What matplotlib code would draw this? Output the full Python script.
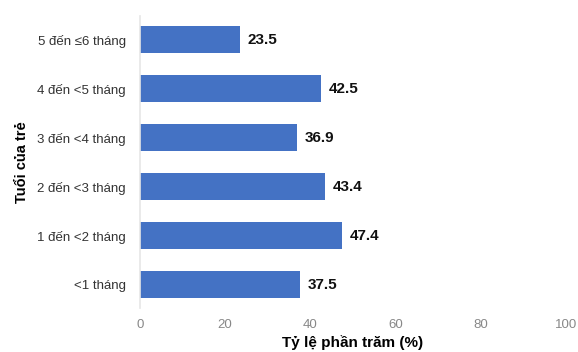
import matplotlib.pyplot as plt

plt.rcParams['font.family'] = ['Liberation Sans', 'DejaVu Sans']

# Data
categories = ["<1 tháng", "1 đến <2 tháng", "2 đến <3 tháng",
              "3 đến <4 tháng", "4 đến <5 tháng", "5 đến ≤6 tháng"]
values = [37.5, 47.4, 43.4, 36.9, 42.5, 23.5]
x_ticks = [0, 20, 40, 60, 80, 100]

fig = plt.figure(figsize=(5.78, 3.52), dpi=100)
ax = fig.add_axes([0.242, 0.125, 0.737, 0.83])

ypos = range(len(categories))
ax.barh(ypos, values, height=0.55, color="#4472C4")

for y, v in zip(ypos, values):
    ax.text(v + 1.8, y, f"{v:.1f}", va="center", ha="left",
            fontsize=11, fontweight="bold", color="#111111")

ax.set_yticks(list(ypos))
ax.set_yticklabels(categories, fontsize=9.5, color="#333333")
ax.set_xticks(x_ticks)
ax.set_xticklabels([str(t) for t in x_ticks], fontsize=9.5, color="#888888")
ax.set_xlim(0, 100)
ax.set_ylim(-0.47, 5.49)

for s in ["top", "right", "bottom"]:
    ax.spines[s].set_visible(False)
ax.spines["left"].set_color("#e6e6e6")
ax.spines["left"].set_linewidth(1.2)
ax.tick_params(axis="both", length=0)
ax.tick_params(axis="y", pad=10)
ax.tick_params(axis="x", pad=8)

ax.set_xlabel("Tỷ lệ phần trăm (%)", fontsize=11, fontweight="bold", labelpad=3)
ax.set_ylabel("Tuổi của trẻ", fontsize=10.5, fontweight="bold", labelpad=6)

fig.savefig("out.png", dpi=100)
